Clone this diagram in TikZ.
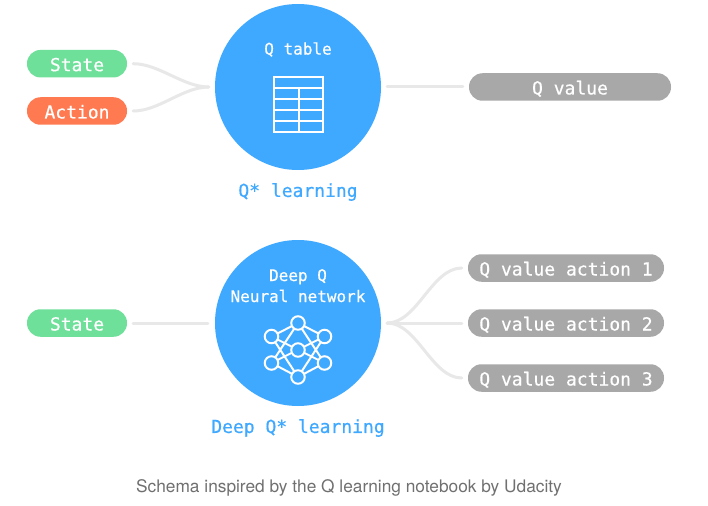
\documentclass[tikz,border=0pt]{standalone}
\usepackage{fontspec}
\setmainfont{TeX Gyre Heros}
\newfontfamily\monof[FakeBold=0.5]{DejaVu Sans Mono}
\definecolor{blueC}{HTML}{3FA9FF}
\definecolor{greenC}{HTML}{6EE09A}
\definecolor{orangeC}{HTML}{FF7A50}
\definecolor{greyC}{HTML}{A8A8A8}
\definecolor{linkC}{HTML}{E8E8E8}
\definecolor{capC}{HTML}{707070}
\tikzset{
  pill/.style={rounded corners=13.5pt,minimum height=27.5pt,inner sep=0pt,text=white,text height=15pt,text depth=0pt,font=\monof\fontsize{18}{18}\selectfont},
  bigc/.style={circle,fill=blueC,minimum size=166pt,inner sep=0pt},
  ctext/.style={text=white,font=\monof\fontsize{16}{22}\selectfont,align=center,inner sep=0pt},
  title/.style={text=blueC,font=\monof\fontsize{18}{18}\selectfont,inner sep=0pt},
  link/.style={draw=linkC,line width=3pt,line cap=round},
  icon/.style={draw=white,line width=2pt},
  unode/.style={circle,draw=white,line width=2pt,fill=blueC,minimum size=13.5pt,inner sep=0pt},
}
\begin{document}
\begin{tikzpicture}[x=1pt,y=-1pt]
\useasboundingbox (0,0) rectangle (708,505);
\fill[white] (0,0) rectangle (708,505);
% big circles
\node[bigc] (qt) at (298,87) {};
\node[bigc] (dq) at (298,323) {};
% pills
\node[pill,fill=greenC,minimum width=100pt] (s1) at (77,63.7) {State};
\node[pill,fill=orangeC,minimum width=100pt] (a1) at (77,111) {Action};
\node[pill,fill=greyC,minimum width=202pt] (qv) at (570,87) {Q value};
\node[pill,fill=greenC,minimum width=100pt] (s2) at (77,323) {State};
\node[pill,fill=greyC,minimum width=196pt] (q1) at (566,268) {Q value action 1};
\node[pill,fill=greyC,minimum width=196pt] (q2) at (566,323) {Q value action 2};
\node[pill,fill=greyC,minimum width=196pt] (q3) at (566,378) {Q value action 3};
% connectors
\draw[link,shorten <=6pt,shorten >=6pt] (s1.east) to[out=0,in=180,looseness=0.9] (qt.west);
\draw[link,shorten <=6pt,shorten >=6pt] (a1.east) to[out=0,in=180,looseness=0.9] (qt.west);
\draw[link,shorten <=6pt,shorten >=6pt] (qt.east) -- (qv.west);
\draw[link,shorten <=6pt,shorten >=7pt] (s2.east) -- (dq.west);
\draw[link,shorten <=6pt,shorten >=6pt] (dq.east) to[out=0,in=180,looseness=0.9] (q1.west);
\draw[link,shorten <=6pt,shorten >=6pt] (dq.east) -- (q2.west);
\draw[link,shorten <=6pt,shorten >=6pt] (dq.east) to[out=0,in=180,looseness=0.9] (q3.west);
% labels
\node[ctext] (t1) at (298,49.5) {Q table};
\node[ctext,text height=11pt,text depth=3pt] (t2) at (298,277) {Deep Q};
\node[ctext,text height=11pt,text depth=3pt] (t3) at (298,298) {Neural network};
\node[title] (l1) at (298,192) {Q* learning};
\node[title] (l2) at (298,428) {Deep Q* learning};
\node[inner sep=0pt,text=capC,font=\fontsize{17.3}{18}\selectfont] (cap) at (349,487.5) {Schema inspired by the Q learning notebook by Udacity};
% table icon
\draw[icon] (274,77) rectangle (323,132);
\draw[icon] (274,88.5) -- (323,88.5) (274,99.5) -- (323,99.5) (274,110.5) -- (323,110.5) (274,121.5) -- (323,121.5);
\draw[icon] (298.5,88.5) -- (298.5,132);
% network icon
\coordinate (nt) at (298,323);
\coordinate (nb) at (298,377);
\coordinate (nc) at (298,350);
\coordinate (nlu) at (271.5,336.5);
\coordinate (nll) at (271.5,363);
\coordinate (nru) at (324.5,336.5);
\coordinate (nrl) at (324.5,363);
\draw[icon] (nt) -- (nlu) (nt) -- (nru) (nb) -- (nll) (nb) -- (nrl)
  (nt) -- (nll) (nt) -- (nrl) (nb) -- (nlu) (nb) -- (nru)
  (nlu) -- (nrl) (nll) -- (nru);
\foreach \p in {nt,nb,nc,nlu,nll,nru,nrl} \node[unode] at (\p) {};
\end{tikzpicture}
\end{document}
